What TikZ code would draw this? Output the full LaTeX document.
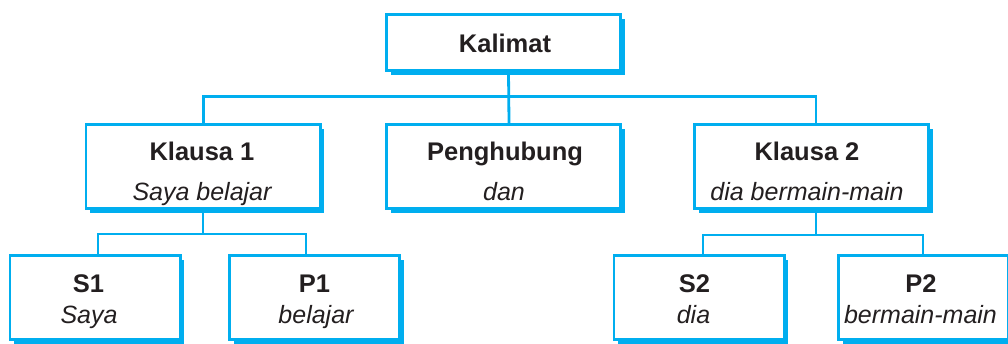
\documentclass[tikz,border=0pt]{standalone}
\usepackage{fontspec}
\setmainfont{Liberation Sans}
\usetikzlibrary{shadows}
\definecolor{boxblue}{RGB}{0,174,239}
\definecolor{ink}{RGB}{35,31,32}
\begin{document}
\begin{tikzpicture}[x=1pt,y=-1pt,
  box/.style={draw=boxblue, line width=2.8pt, fill=white, inner sep=0pt,
    minimum width=234.2pt, minimum height=84.2pt,
    drop shadow={fill=boxblue, opacity=1, shadow xshift=4.2pt, shadow yshift=-4.2pt}},
  smallbox/.style={box, minimum width=170.2pt},
  head/.style={inner sep=0pt, anchor=base, text=ink, font=\fontsize{25.5}{28}\selectfont\bfseries},
  sub/.style={inner sep=0pt, anchor=base, text=ink, font=\fontsize{25}{28}\selectfont\itshape},
  conn/.style={draw=boxblue, line width=2.8pt}]
\useasboundingbox (0,0) rectangle (1008,343);

% boxes
\node[box, minimum height=56.2pt] (kal) at (503.5,42.5) {};
\node[box] (k1)  at (203,166.5) {};
\node[box] (pen) at (503.5,166.5) {};
\node[box] (k2)  at (811.5,166.5) {};
\node[smallbox] (s1) at (95,297.5) {};
\node[smallbox] (p1) at (314.5,297.5) {};
\node[smallbox] (s2) at (699,297.5) {};
\node[smallbox] (p2) at (923.5,297.5) {};

% connectors
\coordinate (busA) at (510,96.5);
\coordinate (busB) at (203,234);
\coordinate (busC) at (816,235);
\draw[conn] ([xshift=5pt]kal.south) -- ([xshift=5.5pt]pen.north);
\draw[conn] ([xshift=0.5pt]k1.north) |- (busA) -| ([xshift=4.5pt]k2.north);
\draw[conn] (k1.south) -- (busB);
\draw[conn] ([xshift=3pt]s1.north) |- (busB) -| ([xshift=-8.5pt]p1.north);
\draw[conn] ([xshift=4.5pt]k2.south) -- (busC);
\draw[conn] ([xshift=4pt]s2.north) |- (busC) -| ([xshift=-0.5pt]p2.north);

% labels
\node[head] (tkal) at (505,52) {Kalimat};
\node[head] (tk1) at (202,160) {Klausa 1};
\node[sub]  (ik1) at (202,200) {Saya belajar};
\node[head] (tpen) at (505,160) {Penghubung};
\node[sub]  (ipen) at (504,200) {dan};
\node[head] (tk2) at (807,160) {Klausa 2};
\node[sub]  (ik2) at (807,200) {dia bermain-main};
\node[head] (ts1) at (88.5,292) {S1};
\node[sub]  (is1) at (89,323) {Saya};
\node[head] (tp1) at (314.5,292) {P1};
\node[sub]  (ip1) at (316,323) {belajar};
\node[head] (ts2) at (694.5,292) {S2};
\node[sub]  (is2) at (693.5,323) {dia};
\node[head] (tp2) at (921,292) {P2};
\node[sub]  (ip2) at (920.5,323) {bermain-main};
\end{tikzpicture}
\end{document}
